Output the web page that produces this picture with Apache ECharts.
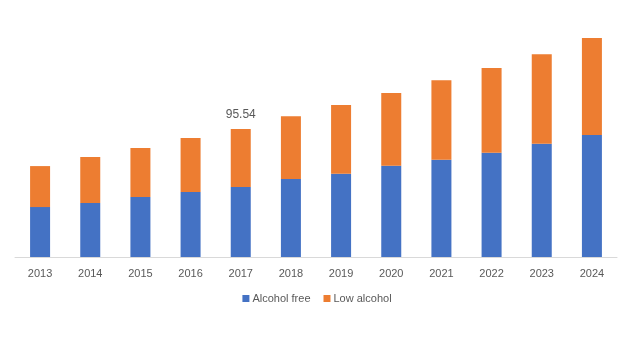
<!DOCTYPE html>
<html>
<head>
<meta charset="utf-8">
<script src="https://cdn.jsdelivr.net/npm/echarts@6/dist/echarts.min.js"></script>
<style>html,body{margin:0;padding:0;background:#fff;}#c{width:634px;height:344px;}</style>
</head>
<body>
<div id="c"></div>
<script>
const years = ['2013','2014','2015','2016','2017','2018','2019','2020','2021','2022','2023','2024'];
const alcoholFree = [37.3, 40.3, 44.8, 48.5, 52.2, 58.2, 62.2, 68.1, 72.6, 77.8, 84.6, 91.1];
const lowAlcohol = [30.6, 34.3, 36.6, 40.3, 43.34, 47.0, 51.3, 54.3, 59.5, 63.3, 66.9, 72.4];
const labelIndex = 4;
const labelText = '95.54';

const chart = echarts.init(document.getElementById('c'), null, {renderer: 'canvas'});
const font = '"Liberation Sans", Arial, sans-serif';
chart.setOption({
  animation: false,
  textStyle: {fontFamily: font},
  grid: {left: 15, right: 17, top: 16, bottom: 87},
  legend: {
    bottom: 35, left: 'center',
    itemWidth: 7, itemHeight: 7, itemGap: 13,
    icon: 'rect',
    textStyle: {color: '#595959', fontSize: 11, fontFamily: font, padding: [0, 0, 0, -2]},
    data: ['Alcohol free', 'Low alcohol']
  },
  xAxis: {
    type: 'category', data: years,
    axisLine: {lineStyle: {color: '#d9d9d9', width: 1}},
    axisTick: {show: false},
    axisLabel: {color: '#595959', fontSize: 11, fontFamily: font, margin: 11}
  },
  yAxis: {
    type: 'value', min: 0, max: 180,
    show: false,
    splitLine: {show: false}
  },
  series: [
    {
      name: 'Alcohol free', type: 'bar', stack: 'total', barWidth: 20,
      itemStyle: {color: '#4472c4'},
      data: alcoholFree
    },
    {
      name: 'Low alcohol', type: 'bar', stack: 'total', barWidth: 20,
      itemStyle: {color: '#ed7d31'},
      data: lowAlcohol.map((v, i) => i === labelIndex ? {
        value: v,
        label: {show: true, position: 'top', distance: 8, formatter: labelText,
                color: '#595959', fontSize: 12, fontFamily: font}
      } : v)
    }
  ]
});
</script>
</body>
</html>
